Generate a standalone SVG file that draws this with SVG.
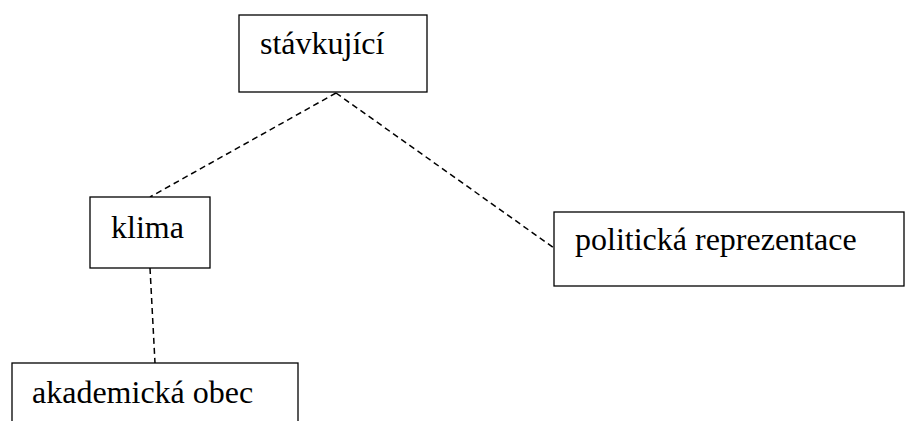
<svg xmlns="http://www.w3.org/2000/svg" width="905" height="421" viewBox="0 0 905 421">
<style>
.box{fill:#fff;stroke:#000;stroke-width:1.3}
.lbl{font-family:"Liberation Serif","Times New Roman",serif;font-size:32px;fill:#000}
.con{fill:none;stroke:#000;stroke-width:1.5;stroke-dasharray:6,4}
</style>
<rect width="905" height="421" fill="#fff"/>
<g id="connectors">
<line class="con" x1="336" y1="93" x2="150" y2="197"/>
<line class="con" x1="336" y1="93" x2="554" y2="248"/>
<line class="con" x1="150" y1="268" x2="155" y2="363"/>
</g>
<g id="node-stavkujici">
<rect class="box" x="239" y="15" width="188" height="77"/>
<text class="lbl" x="260" y="54">stávkující</text>
</g>
<g id="node-klima">
<rect class="box" x="90" y="197" width="120" height="71"/>
<text class="lbl" x="111" y="238">klima</text>
</g>
<g id="node-politicka">
<rect class="box" x="554" y="212" width="350" height="74"/>
<text class="lbl" x="575" y="250">politická reprezentace</text>
</g>
<g id="node-akademicka">
<rect class="box" x="12" y="363" width="286" height="70"/>
<text class="lbl" x="32" y="403">akademická obec</text>
</g>
</svg>
